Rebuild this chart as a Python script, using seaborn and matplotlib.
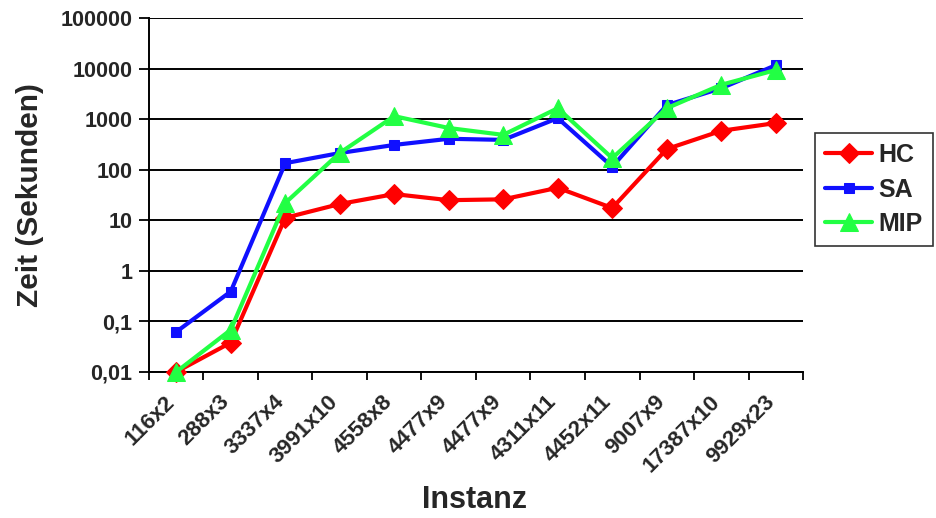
import matplotlib
matplotlib.use("Agg")
import matplotlib.pyplot as plt
import matplotlib.transforms as mtransforms
import seaborn as sns
import pandas as pd
import numpy as np
from matplotlib.ticker import FixedLocator, NullLocator

# ---- data ----
instanzen = ["116x2", "288x3", "3337x4", "3991x10", "4558x8", "4477x9",
             "4477x9", "4311x11", "4452x11", "9007x9", "17387x10", "9929x23"]
hc = [0.01, 0.038, 11.2, 21, 33, 25, 26, 44, 17.5, 257, 590, 840]
sa = [0.062, 0.39, 135, 214, 310, 410, 390, 1050, 115, 1900, 4100, 11700]
mip = [0.01, 0.068, 22, 215, 1150, 670, 490, 1650, 170, 1650, 4800, 9400]
y_ticks = [0.01, 0.1, 1, 10, 100, 1000, 10000, 100000]
y_tick_labels = ["0,01", "0,1", "1", "10", "100", "1000", "10000", "100000"]

sns.set_style("white")
plt.rcParams["font.family"] = ["Liberation Sans", "DejaVu Sans"]
plt.rcParams["font.weight"] = "bold"

fig = plt.figure(figsize=(9.37, 5.18), dpi=100)
ax = fig.add_axes([0.159, 0.282, 0.857 - 0.159, 0.965 - 0.282])

pos = np.arange(len(instanzen))
df = pd.DataFrame({"pos": pos, "HC": hc, "SA": sa, "MIP": mip})

styles = [
    ("HC", "#ff0000", "D", 10.5),
    ("SA", "#1010ff", "s", 7),
    ("MIP", "#22ff44", "^", 13),
]
for name, col, mk, ms in styles:
    sns.lineplot(data=df, x="pos", y=name, ax=ax, color=col, marker=mk,
                 markersize=ms, markeredgecolor=col, linewidth=3,
                 label=name, zorder=3, clip_on=False)

ax.set_yscale("log")
ax.set_ylim(0.01, 100000)
ax.set_xlim(-0.5, len(instanzen) - 0.5)

ax.yaxis.set_major_locator(FixedLocator(y_ticks))
ax.yaxis.set_minor_locator(NullLocator())
ax.set_yticklabels(y_tick_labels, fontsize=15.5, fontweight="bold")
ax.tick_params(axis="y", which="major", direction="out", length=7, width=1.3,
               color="black", left=True, pad=5)

ax.xaxis.set_major_locator(FixedLocator(pos))
ax.set_xticklabels(instanzen, rotation=45, ha="right", rotation_mode="anchor",
                   fontsize=16, fontweight="bold")
ax.xaxis.set_minor_locator(FixedLocator(np.arange(-0.5, len(instanzen), 1.0)))
ax.tick_params(axis="x", which="major", length=0, pad=14)
ax.tick_params(axis="x", which="minor", direction="out", length=6, width=1.3,
               color="black", bottom=True)
shift = mtransforms.ScaledTranslation(-12 / 100, 0, fig.dpi_scale_trans)
for lbl in ax.get_xticklabels():
    lbl.set_transform(lbl.get_transform() + shift)

ax.grid(True, axis="y", which="major", color="black", linewidth=1.4)
ax.grid(False, axis="x")
ax.set_axisbelow(True)

for s in ["right", "top"]:
    ax.spines[s].set_visible(False)
for s in ["left", "bottom"]:
    ax.spines[s].set_color("black")
    ax.spines[s].set_linewidth(1.4)

ax.set_xlabel("Instanz", fontsize=22, fontweight="bold", va="center")
ax.xaxis.set_label_coords(0.498, -0.362)
ax.set_ylabel("Zeit (Sekunden)", fontsize=21.5, fontweight="bold", labelpad=12)

leg = ax.legend(loc="upper left", bbox_to_anchor=(1.018, 0.675), frameon=True,
                fancybox=False, edgecolor="black", fontsize=18,
                handlelength=1.9, handletextpad=0.25, labelspacing=0.42,
                borderpad=0.4, borderaxespad=0)
leg.get_frame().set_linewidth(1.2)
for t in leg.get_texts():
    t.set_fontweight("bold")

fig.savefig("out.png", dpi=100)
